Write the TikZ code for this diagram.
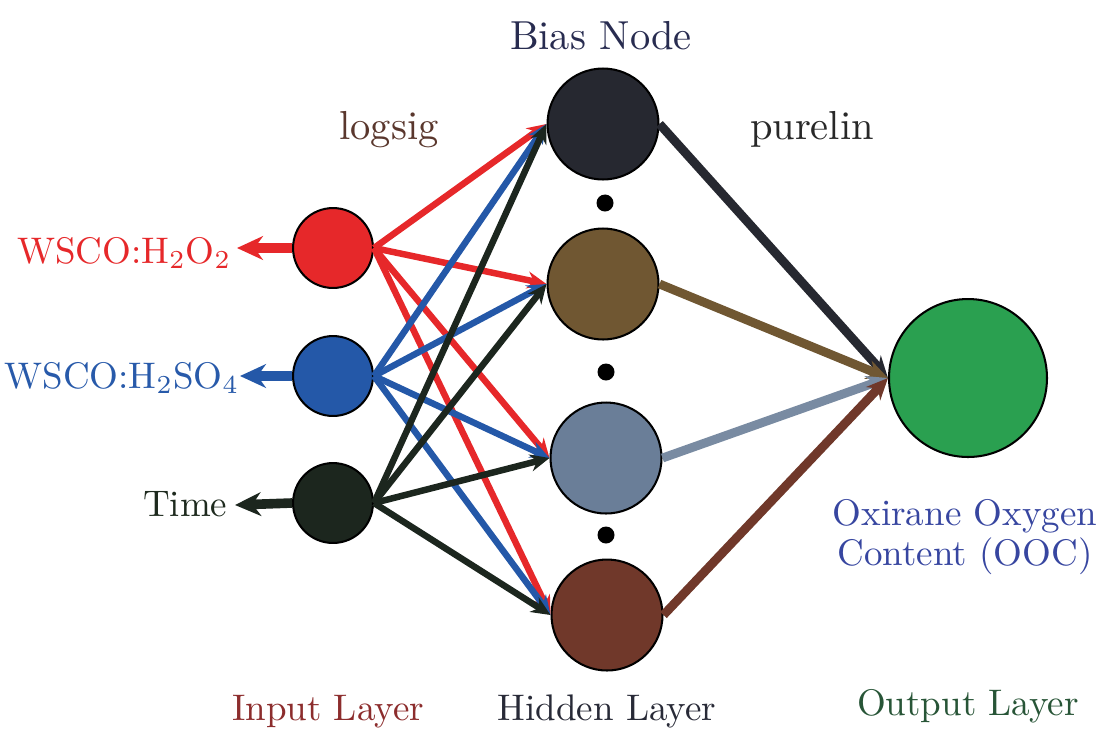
\documentclass[tikz,border=0pt]{standalone}
\usetikzlibrary{arrows.meta}

% node fills
\definecolor{inRed}{RGB}{230,40,42}
\definecolor{inBlue}{RGB}{36,88,168}
\definecolor{inDark}{RGB}{28,38,30}
\definecolor{hDark}{RGB}{38,40,48}
\definecolor{hBrown}{RGB}{112,87,50}
\definecolor{hSlate}{RGB}{106,126,152}
\definecolor{hRust}{RGB}{112,56,42}
\definecolor{outGreen}{RGB}{42,160,80}
% text colours
\definecolor{tNavy}{RGB}{40,44,80}
\definecolor{tLogsig}{RGB}{90,55,45}
\definecolor{tPurelin}{RGB}{40,40,40}
\definecolor{tOOC}{RGB}{55,70,160}
\definecolor{tInput}{RGB}{140,45,45}
\definecolor{tHidden}{RGB}{40,42,55}
\definecolor{tOutput}{RGB}{40,85,55}
\definecolor{tBlue}{RGB}{40,90,170}
\definecolor{tTime}{RGB}{30,42,30}

\begin{document}
\begin{tikzpicture}[x=0.2703pt,y=-0.2703pt,
  neuron/.style={circle,draw=black,line width=0.55pt,inner sep=0pt},
  inneuron/.style={neuron,minimum size=21.6pt},
  hidneuron/.style={neuron,minimum size=30pt},
  outneuron/.style={neuron,minimum size=42.7pt},
  dotmark/.style={circle,fill=black,inner sep=0pt,minimum size=4.6pt},
  lbl/.style={inner sep=0pt,font=\fontsize{10}{10.8}\selectfont},
  toplbl/.style={inner sep=0pt,font=\fontsize{10.95}{13}\selectfont},
  inarrow/.style={line width=1.75pt,-{Stealth[length=5.2pt,width=4.6pt]}},
  outarrow/.style={line width=2.4pt,-{Stealth[length=5.8pt,width=5.2pt]}},
  leftarrow/.style={line width=2.6pt,-{Stealth[length=7pt,width=6.4pt]}}]

\useasboundingbox (0,0) rectangle (1099,728);

% input layer
\node[inneuron,fill=inRed]  (in1) at (333,248) {};
\node[inneuron,fill=inBlue] (in2) at (333,376) {};
\node[inneuron,fill=inDark] (in3) at (333,503) {};

% hidden layer
\node[hidneuron,fill=hDark]  (h1) at (603,124) {};
\node[hidneuron,fill=hBrown] (h2) at (603,284) {};
\node[hidneuron,fill=hSlate] (h3) at (606,458) {};
\node[hidneuron,fill=hRust]  (h4) at (607,615) {};

\node[dotmark] (d1) at (605,203) {};
\node[dotmark] (d2) at (606,372) {};
\node[dotmark] (d3) at (606,535) {};

% output layer
\node[outneuron,fill=outGreen] (out) at (968,378) {};

% input labels with their arrows
\coordinate (tipA) at (237,248);
\coordinate (tipB) at (240,376);
\coordinate (tipC) at (235,505);
\draw[leftarrow,inRed]  (in1.west) -- (tipA);
\draw[leftarrow,inBlue] (in2.west) -- (tipB);
\draw[leftarrow,inDark] (in3.west) -- (tipC);
\node[lbl,anchor=base east,text=inRed] (lblA) at (232,263) {WSCO:H$_2$O$_2$};
\node[lbl,anchor=base east,text=tBlue] (lblB) at (240,388) {WSCO:H$_2$SO$_4$};
\node[lbl,anchor=base east,text=tTime] (lblC) at (228,516) {Time};

% input -> hidden
\foreach \h in {h1,h2,h3,h4}
  \draw[inarrow,inRed] (in1.east) -- (\h.west);
\foreach \h in {h1,h2,h3,h4}
  \draw[inarrow,inBlue] (in2.east) -- (\h.west);
\foreach \h in {h1,h2,h3,h4}
  \draw[inarrow,inDark] (in3.east) -- (\h.west);

% hidden -> output
\draw[outarrow,hDark]  (h1.east) -- (out.west);
\draw[outarrow,hBrown] (h2.east) -- (out.west);
\draw[outarrow,hSlate!90!white] (h3.east) -- (out.west);
\draw[outarrow,hRust]  (h4.east) -- (out.west);

% captions
\node[toplbl,anchor=base,text=tNavy]    (bias)    at (601,49)  {Bias Node};
\node[toplbl,anchor=base,text=tLogsig]  (logsig)  at (389,139) {logsig};
\node[toplbl,anchor=base,text=tPurelin] (purelin) at (812,139) {purelin};
\node[lbl,anchor=north,text=tOOC,align=center] (ooc) at (965,499)
  {Oxirane Oxygen\\Content (OOC)};
\node[lbl,anchor=base,text=tInput]  (inlayer)  at (328,720) {Input Layer};
\node[lbl,anchor=base,text=tHidden] (hidlayer) at (607,720) {Hidden Layer};
\node[lbl,anchor=base,text=tOutput] (outlayer) at (968,715) {Output Layer};

\end{tikzpicture}
\end{document}
